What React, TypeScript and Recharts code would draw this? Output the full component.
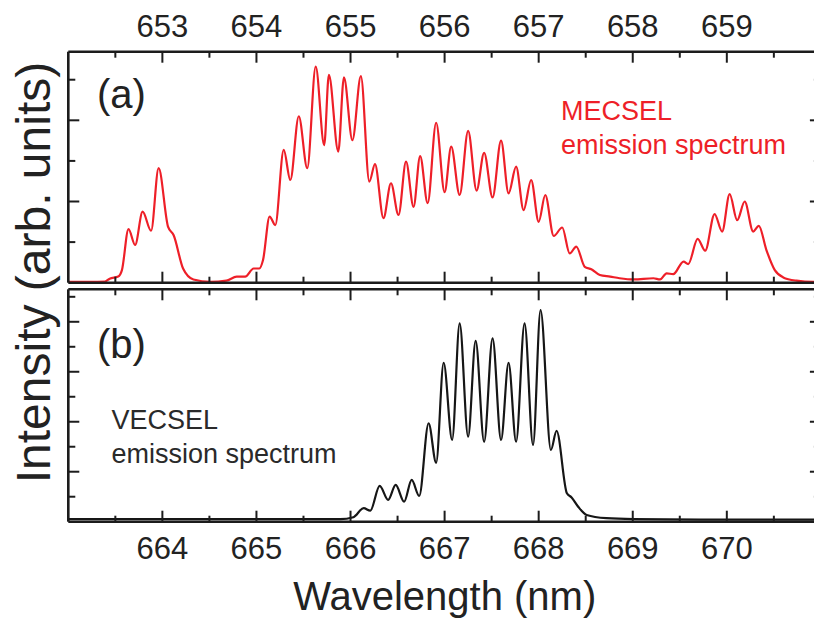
import React from 'react';
import { LineChart, Line, XAxis, YAxis } from 'recharts';

// (a) MECSEL spectrum, wavelength in nm (top axis) vs intensity (arb. units)
const mecselWavelength = [
  652.0, 652.23, 652.39, 652.44, 652.53, 652.57, 652.64, 652.71, 652.79, 652.88,
  652.96, 653.06, 653.12, 653.22, 653.33, 653.51, 653.68, 653.79, 653.88, 653.97,
  654.03, 654.07, 654.14, 654.2, 654.29, 654.36, 654.45, 654.54, 654.63, 654.72,
  654.77, 654.87, 654.93, 655.02, 655.11, 655.2, 655.26, 655.35, 655.43, 655.51,
  655.59, 655.67, 655.74, 655.82, 655.91, 656.0, 656.07, 656.16, 656.25, 656.34,
  656.42, 656.51, 656.6, 656.68, 656.76, 656.84, 656.92, 657.0, 657.07, 657.16,
  657.25, 657.33, 657.4, 657.49, 657.56, 657.65, 657.76, 657.86, 658.01, 658.22,
  658.29, 658.36, 658.43, 658.54, 658.59, 658.69, 658.77, 658.87, 658.95, 659.03,
  659.11, 659.19, 659.28, 659.34, 659.42, 659.51, 659.6, 659.74, 659.92, 660.0,
];
const mecselIntensity = [
  0.02, 0.02, 0.03, 0.1, 0.15, 0.31, 1.32, 0.93, 1.75, 1.28,
  2.82, 1.38, 1.17, 0.35, 0.08, 0.02, 0.05, 0.15, 0.15, 0.35,
  0.35, 0.56, 1.63, 1.42, 3.27, 2.53, 4.1, 2.82, 5.32, 3.39,
  5.12, 3.23, 5.06, 3.51, 5.09, 2.49, 2.92, 1.59, 2.45, 1.67,
  2.98, 1.87, 3.12, 1.96, 3.94, 2.23, 3.35, 2.16, 3.74, 2.27,
  3.2, 2.1, 3.5, 2.2, 2.86, 1.79, 2.53, 1.5, 2.16, 1.15,
  1.36, 0.72, 0.89, 0.39, 0.33, 0.19, 0.15, 0.11, 0.08, 0.11,
  0.08, 0.23, 0.21, 0.52, 0.46, 1.08, 0.79, 1.69, 1.26, 2.18,
  1.54, 2.0, 1.26, 1.4, 0.81, 0.31, 0.13, 0.05, 0.02, 0.02,
];

// (b) VECSEL spectrum, wavelength in nm (bottom axis) vs intensity (arb. units)
const vecselWavelength = [
  663.0, 664.4, 665.89, 666.03, 666.14, 666.21, 666.31, 666.4, 666.48, 666.57,
  666.65, 666.73, 666.83, 666.91, 666.99, 667.08, 667.16, 667.25, 667.33, 667.42,
  667.51, 667.6, 667.68, 667.76, 667.85, 667.94, 668.02, 668.13, 668.19, 668.3,
  668.35, 668.42, 668.51, 668.72, 669.01, 669.72, 671.0,
];
const vecselIntensity = [
  0.1, 0.1, 0.1, 0.18, 0.54, 0.44, 1.43, 0.87, 1.47, 0.8,
  1.67, 1.03, 3.94, 2.36, 6.36, 3.27, 7.94, 3.4, 7.24, 3.2,
  7.34, 3.27, 6.36, 3.2, 7.94, 3.07, 8.47, 2.87, 3.64, 1.14,
  0.97, 0.6, 0.27, 0.14, 0.1, 0.08, 0.08,
];

const topAxisTicks = [652.5, 653, 653.5, 654, 654.5, 655, 655.5, 656, 656.5, 657, 657.5, 658, 658.5, 659, 659.5];
const bottomAxisTicks = [663.5, 664, 664.5, 665, 665.5, 666, 666.5, 667, 667.5, 668, 668.5, 669, 669.5, 670, 670.5];
const mecselYTicks = [1, 2, 3, 4, 5];
const vecselYTicks = [1, 2, 3, 4, 5, 6, 7, 8, 9];

const FONT = '"Liberation Sans", Arial, Helvetica, sans-serif';
const FRAME = '#1c1c1c';
const RED = '#ee1f28';
const frameLine = { stroke: FRAME, strokeWidth: 2.6 };

const mecselData = mecselWavelength.map((x, i) => ({ x, v: mecselIntensity[i] }));
const vecselData = vecselWavelength.map((x, i) => ({ x, v: vecselIntensity[i] }));

// inward ticks, longer on whole nm, labels only on whole nm
const XTick = (props: any) => {
  const { x, y, payload, side, showLabel } = props;
  const major = Number.isInteger(payload.value);
  const len = major ? 11 : 6;
  const dir = side === 'top' ? 1 : -1;
  return (
    <g>
      <line x1={x} x2={x} y1={y} y2={y + dir * len} stroke={FRAME} strokeWidth={2} />
      {showLabel && major && (
        <text
          x={x}
          y={side === 'top' ? y - 15 : y + 37}
          textAnchor="middle"
          fontSize={31}
          fill="#222"
          fontFamily={FONT}
        >
          {payload.value}
        </text>
      )}
    </g>
  );
};

const YTick = (props: any) => {
  const { x, y, payload, side } = props;
  const major = payload.value % 2 === 0;
  const len = major ? 11 : 7;
  const dir = side === 'left' ? 1 : -1;
  return <line x1={x} x2={x + dir * len} y1={y} y2={y} stroke={FRAME} strokeWidth={2} />;
};

const CHART_W = 830;
const PLOT_LEFT = 68.3;
const PLOT_RIGHT = 820.9;
const AX = 1; // axis band size, subtracted from the margins

const App = () => {
  return (
    <div
      style={{
        position: 'absolute',
        left: 0,
        top: 0,
        width: 814,
        height: 624,
        overflow: 'hidden',
        background: '#fff',
        fontFamily: FONT,
      }}
    >
      {/* panel (a) */}
      <div style={{ position: 'absolute', left: 0, top: 0 }}>
        <LineChart
          width={CHART_W}
          height={290}
          data={mecselData}
          margin={{
            top: 51.7 - AX,
            right: CHART_W - PLOT_RIGHT - AX,
            bottom: 290 - 282.7 - AX,
            left: PLOT_LEFT - AX,
          }}
        >
          <XAxis
            xAxisId="top"
            orientation="top"
            dataKey="x"
            type="number"
            domain={[652, 660]}
            allowDataOverflow
            ticks={topAxisTicks}
            interval={0}
            height={AX}
            tickSize={0}
            tickMargin={0}
            tickLine={false}
            axisLine={frameLine}
            tick={(p: any) => <XTick {...p} side="top" showLabel />}
          />
          <XAxis
            xAxisId="bottom"
            dataKey="x"
            type="number"
            domain={[652, 660]}
            allowDataOverflow
            ticks={topAxisTicks}
            interval={0}
            height={AX}
            tickSize={0}
            tickMargin={0}
            tickLine={false}
            axisLine={frameLine}
            tick={(p: any) => <XTick {...p} side="bottom" />}
          />
          <YAxis
            yAxisId="left"
            type="number"
            domain={[0, 5.69]}
            allowDataOverflow
            ticks={mecselYTicks}
            interval={0}
            width={AX}
            tickSize={0}
            tickMargin={0}
            tickLine={false}
            axisLine={frameLine}
            tick={(p: any) => <YTick {...p} side="left" />}
          />
          <YAxis
            yAxisId="right"
            orientation="right"
            type="number"
            domain={[0, 5.69]}
            allowDataOverflow
            ticks={mecselYTicks}
            interval={0}
            width={AX}
            tickSize={0}
            tickMargin={0}
            tickLine={false}
            axisLine={frameLine}
            tick={(p: any) => <YTick {...p} side="right" />}
          />
          <Line
            xAxisId="bottom"
            yAxisId="left"
            type="monotone"
            dataKey="v"
            stroke={RED}
            strokeWidth={2.2}
            dot={false}
            isAnimationActive={false}
          />
        </LineChart>
      </div>

      {/* panel (b) */}
      <div style={{ position: 'absolute', left: 0, top: 284 }}>
        <LineChart
          width={CHART_W}
          height={340}
          data={vecselData}
          margin={{
            top: 5.3 - AX,
            right: CHART_W - PLOT_RIGHT - AX,
            bottom: 340 - (521.7 - 284) - AX,
            left: PLOT_LEFT - AX,
          }}
        >
          <XAxis
            xAxisId="top"
            orientation="top"
            dataKey="x"
            type="number"
            domain={[663, 671]}
            allowDataOverflow
            ticks={bottomAxisTicks}
            interval={0}
            height={AX}
            tickSize={0}
            tickMargin={0}
            tickLine={false}
            axisLine={frameLine}
            tick={(p: any) => <XTick {...p} side="top" />}
          />
          <XAxis
            xAxisId="bottom"
            dataKey="x"
            type="number"
            domain={[663, 671]}
            allowDataOverflow
            ticks={bottomAxisTicks}
            interval={0}
            height={AX}
            tickSize={0}
            tickMargin={0}
            tickLine={false}
            axisLine={frameLine}
            tick={(p: any) => <XTick {...p} side="bottom" showLabel />}
          />
          <YAxis
            yAxisId="left"
            type="number"
            domain={[0, 9.3]}
            allowDataOverflow
            ticks={vecselYTicks}
            interval={0}
            width={AX}
            tickSize={0}
            tickMargin={0}
            tickLine={false}
            axisLine={frameLine}
            tick={(p: any) => <YTick {...p} side="left" />}
          />
          <YAxis
            yAxisId="right"
            orientation="right"
            type="number"
            domain={[0, 9.3]}
            allowDataOverflow
            ticks={vecselYTicks}
            interval={0}
            width={AX}
            tickSize={0}
            tickMargin={0}
            tickLine={false}
            axisLine={frameLine}
            tick={(p: any) => <YTick {...p} side="right" />}
          />
          <Line
            xAxisId="bottom"
            yAxisId="left"
            type="monotone"
            dataKey="v"
            stroke="#161616"
            strokeWidth={2.2}
            dot={false}
            isAnimationActive={false}
          />
        </LineChart>
      </div>

      {/* titles and annotations */}
      <svg
        width={814}
        height={624}
        style={{ position: 'absolute', left: 0, top: 0, pointerEvents: 'none' }}
        fontFamily={FONT}
      >
        <text transform="translate(50,272.5) rotate(-90)" textAnchor="middle" fontSize={48} fill="#222">
          Intensity (arb. units)
        </text>
        <text x={444.7} y={610} textAnchor="middle" fontSize={40} fill="#222">
          Wavelength (nm)
        </text>
        <text x={97} y={108} fontSize={40} fill="#222">(a)</text>
        <text x={97} y={358} fontSize={40} fill="#222">(b)</text>
        <text x={561} y={119.5} fontSize={27} fill={RED}>MECSEL</text>
        <text x={561} y={154} fontSize={27} fill={RED}>emission spectrum</text>
        <text x={111.5} y={429.3} fontSize={27} fill="#2a2a2a">VECSEL</text>
        <text x={111.5} y={463.3} fontSize={27} fill="#2a2a2a">emission spectrum</text>
      </svg>
    </div>
  );
};

export default App;
